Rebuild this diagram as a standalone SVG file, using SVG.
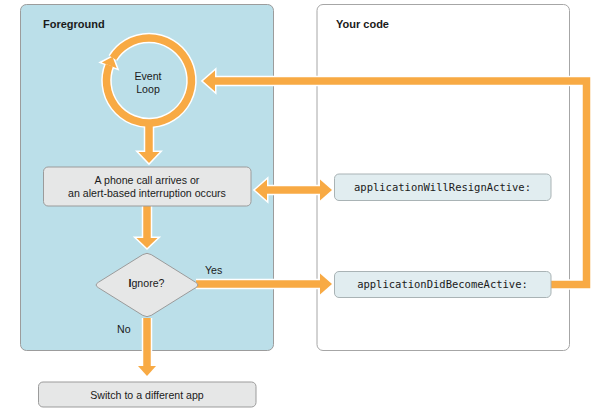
<svg xmlns="http://www.w3.org/2000/svg" width="605" height="417" viewBox="0 0 605 417">
  <style>
    .panel-fg { fill: #bbdfe9; stroke: #9c9c9c; stroke-width: 1; }
    .panel-code { fill: #ffffff; stroke: #a6a6a6; stroke-width: 1; }
    .title { font-family: "Liberation Sans", Arial, sans-serif; font-size: 11px; font-weight: bold; fill: #1a1a1a; }
    .label { font-family: "Liberation Sans", Arial, sans-serif; font-size: 10.6px; fill: #1a1a1a; }
    .mono { font-family: "DejaVu Sans Mono", "Liberation Mono", monospace; font-size: 10.5px; fill: #1a1a1a; }
    .box { fill: #e6e7e7; stroke: #9b9b9b; stroke-width: 1; }
    .code-box { fill: #e1edf0; stroke: #a9b3b5; stroke-width: 1; }
    .halo-line { fill: none; stroke: #ffffff; stroke-width: 10.5; }
    .halo-head { fill: #ffffff; stroke: #ffffff; stroke-width: 3; stroke-linejoin: miter; }
    .line { fill: none; stroke: #f8aa44; stroke-width: 7.5; }
    .head { fill: #f8aa44; }
  </style>
  <defs>
    <!-- connector center lines -->
    <path id="ring" d="M112.96,57.98 A42.5,42.5 0 1 1 109.32,65.27"/>
    <path id="l-loop-down" d="M149,122 V152"/>
    <path id="l-call-down" d="M147,206 V238"/>
    <path id="l-no" d="M147,318 V366"/>
    <path id="l-resign" d="M267,190 H320"/>
    <path id="l-yes" d="M196,284 H320"/>
    <path id="l-return" d="M551,284.5 H586.5 V81 H215"/>
    <!-- arrowheads -->
    <polygon id="h-ring" points="101.85,62.4 116.79,68.14 112.55,56.87"/>
    <polygon id="h-loop-down" points="138.5,152 159.5,152 149,163"/>
    <polygon id="h-call-down" points="136.5,238 157.5,238 147,248"/>
    <polygon id="h-no" points="138,366 156,366 147,376"/>
    <polygon id="h-resign-l" points="267,179.5 267,200.5 255,190"/>
    <polygon id="h-resign-r" points="320,179.5 320,200.5 332,190"/>
    <polygon id="h-yes" points="320,273.5 320,294.5 332,284"/>
    <polygon id="h-return" points="215,70.5 215,91.5 203,81"/>
  </defs>

  <!-- swim lanes -->
  <g id="lane-foreground">
    <rect class="panel-fg" x="20.5" y="4.5" width="253" height="346" rx="6"/>
    <text class="title" x="43" y="28">Foreground</text>
  </g>
  <g id="lane-your-code">
    <rect class="panel-code" x="317" y="4.5" width="252.5" height="346" rx="6"/>
    <text class="title" x="336" y="28">Your code</text>
  </g>

  <!-- connectors: white halo first, orange on top -->
  <g id="connectors">
    <g id="connector-halo">
      <use href="#ring" class="halo-line"/>
      <use href="#l-loop-down" class="halo-line"/>
      <use href="#l-call-down" class="halo-line"/>
      <use href="#l-no" class="halo-line"/>
      <use href="#l-resign" class="halo-line"/>
      <use href="#l-yes" class="halo-line"/>
      <use href="#l-return" class="halo-line"/>
      <use href="#h-ring" class="halo-head"/>
      <use href="#h-loop-down" class="halo-head"/>
      <use href="#h-call-down" class="halo-head"/>
      <use href="#h-no" class="halo-head"/>
      <use href="#h-resign-l" class="halo-head"/>
      <use href="#h-resign-r" class="halo-head"/>
      <use href="#h-yes" class="halo-head"/>
      <use href="#h-return" class="halo-head"/>
    </g>
    <g id="connector-fill">
      <use href="#ring" class="line"/>
      <use href="#l-loop-down" class="line"/>
      <use href="#l-call-down" class="line"/>
      <use href="#l-no" class="line"/>
      <use href="#l-resign" class="line"/>
      <use href="#l-yes" class="line"/>
      <use href="#l-return" class="line"/>
      <use href="#h-ring" class="head"/>
      <use href="#h-loop-down" class="head"/>
      <use href="#h-call-down" class="head"/>
      <use href="#h-no" class="head"/>
      <use href="#h-resign-l" class="head"/>
      <use href="#h-resign-r" class="head"/>
      <use href="#h-yes" class="head"/>
      <use href="#h-return" class="head"/>
    </g>
    <text class="label" x="205" y="274">Yes</text>
    <text class="label" x="117" y="332.5">No</text>
  </g>

  <!-- nodes -->
  <g id="event-loop">
    <text class="label" x="148" y="79.5" text-anchor="middle">Event</text>
    <text class="label" x="148" y="92.5" text-anchor="middle">Loop</text>
  </g>

  <g id="interruption">
    <rect class="box" x="43.5" y="167" width="207.5" height="39" rx="4.5"/>
    <text class="label" x="147" y="183.5" text-anchor="middle">A phone call arrives or</text>
    <text class="label" x="147" y="197" text-anchor="middle">an alert-based interruption occurs</text>
  </g>

  <g id="ignore">
    <path class="box" d="M98.25,282.36 L142.75,254.64 Q147,252 151.25,254.64 L195.75,282.36 Q200,285 195.75,287.64 L151.25,315.36 Q147,318 142.75,315.36 L98.25,287.64 Q94,285 98.25,282.36 Z"/>
    <text class="label" x="146.5" y="287" text-anchor="middle"><tspan font-weight="bold">I</tspan>gnore?</text>
  </g>

  <g id="switch-app">
    <rect class="box" x="38.5" y="382" width="217.5" height="25" rx="4.5"/>
    <text class="label" x="147" y="398.5" text-anchor="middle">Switch to a different app</text>
  </g>

  <g id="will-resign-active">
    <rect class="code-box" x="334.5" y="174" width="216.5" height="26.5" rx="4.5"/>
    <text class="mono" x="442.5" y="190.5" text-anchor="middle">applicationWillResignActive:</text>
  </g>

  <g id="did-become-active">
    <rect class="code-box" x="334.5" y="271.5" width="216.5" height="26" rx="4.5"/>
    <text class="mono" x="442.5" y="288" text-anchor="middle">applicationDidBecomeActive:</text>
  </g>
</svg>
